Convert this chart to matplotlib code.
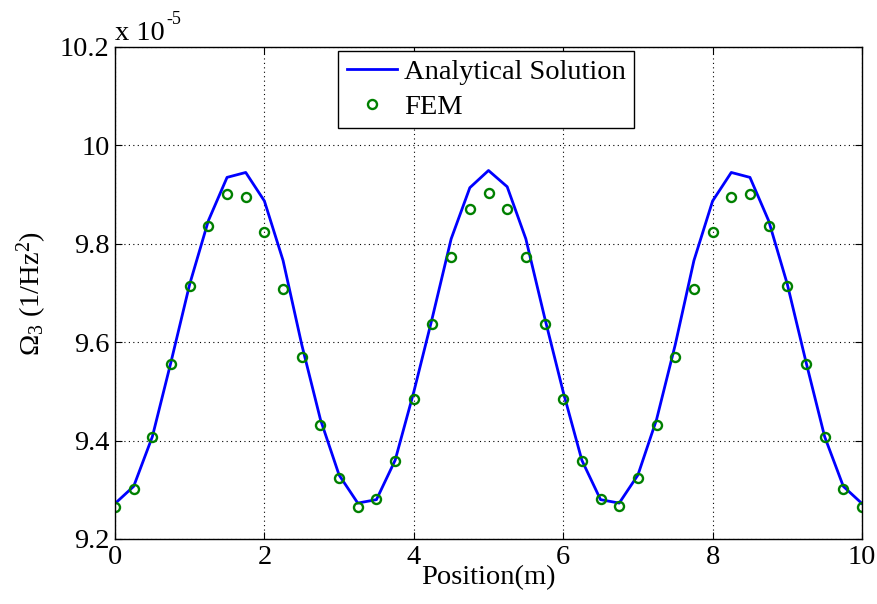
import matplotlib
matplotlib.use("Agg")
import matplotlib.pyplot as plt
from matplotlib.ticker import FuncFormatter

plt.rcParams.update({
    "font.family": ["Liberation Serif", "DejaVu Serif"],
    "mathtext.fontset": "custom",
    "mathtext.rm": "Liberation Serif",
    "mathtext.it": "Liberation Serif",
    "font.size": 20.5,
})

# values in units of 1e-5 (1/Hz^2)
pos = [0.0, 0.25, 0.5, 0.75, 1.0, 1.25, 1.5, 1.75, 2.0, 2.25, 2.5, 2.75,
       3.0, 3.25, 3.5, 3.75, 4.0, 4.25, 4.5, 4.75, 5.0, 5.25, 5.5, 5.75,
       6.0, 6.25, 6.5, 6.75, 7.0, 7.25, 7.5, 7.75, 8.0, 8.25, 8.5, 8.75,
       9.0, 9.25, 9.5, 9.75, 10.0]

analytical = [9.272, 9.307, 9.408, 9.560, 9.718, 9.847, 9.935, 9.945, 9.887,
              9.766, 9.595, 9.443, 9.330, 9.273, 9.280, 9.360, 9.499, 9.651,
              9.810, 9.914, 9.949, 9.916, 9.810, 9.651, 9.499, 9.360, 9.280,
              9.273, 9.330, 9.443, 9.595, 9.766, 9.887, 9.945, 9.935, 9.847,
              9.718, 9.560, 9.408, 9.307, 9.272]

fem = [9.265, 9.302, 9.408, 9.556, 9.714, 9.836, 9.901, 9.895, 9.825,
       9.708, 9.569, 9.431, 9.323, 9.266, 9.281, 9.359, 9.485, 9.636,
       9.774, 9.870, 9.904, 9.870, 9.774, 9.636, 9.485, 9.359, 9.281,
       9.267, 9.323, 9.431, 9.569, 9.708, 9.825, 9.895, 9.901, 9.836,
       9.714, 9.556, 9.408, 9.302, 9.265]

fig = plt.figure(figsize=(8.77, 6.04), dpi=100)
ax = fig.add_axes([115 / 877, 1 - 539 / 604, 747 / 877, 492 / 604])

ax.plot(pos, analytical, color="#0000FF", lw=2.0, label="Analytical Solution")
ax.plot(pos, fem, ls="none", marker="o", ms=6.5, mfc="none", mec="#008000",
        mew=1.7, label="FEM")

ax.set_xlim(0, 10)
ax.set_ylim(9.2, 10.2)
ax.set_xticks([0, 2, 4, 6, 8, 10])
ax.set_yticks([9.2, 9.4, 9.6, 9.8, 10.0, 10.2])
ax.yaxis.set_major_formatter(FuncFormatter(lambda v, p: f"{v:g}"))
ax.tick_params(direction="in", top=True, right=True, length=5, width=0.8,
               pad=4)
ax.grid(True, color="black", ls=(0, (1, 3)), lw=0.8)
for s in ax.spines.values():
    s.set_linewidth(1.0)

ax.set_xlabel("Position(m)", labelpad=-3)
ax.set_ylabel(r"$\Omega_3$ (1/Hz$^2$)", labelpad=8)

# MATLAB-style exponent label above the y axis
ax.annotate("x 10", xy=(0.0, 1.0), xycoords="axes fraction",
            xytext=(0, 1), textcoords="offset points",
            ha="left", va="bottom", fontsize=20.5)
ax.annotate("-5", xy=(0.0, 1.0), xycoords="axes fraction",
            xytext=(37, 14), textcoords="offset points",
            ha="left", va="bottom", fontsize=13)

leg = ax.legend(loc="upper center", bbox_to_anchor=(0.497, 0.992),
                fancybox=False, edgecolor="black", framealpha=1,
                handlelength=1.75, borderpad=0.3, labelspacing=0.3,
                handletextpad=0.25, borderaxespad=0.0)
leg.get_frame().set_linewidth(1.0)

fig.savefig("out.png", dpi=100)
